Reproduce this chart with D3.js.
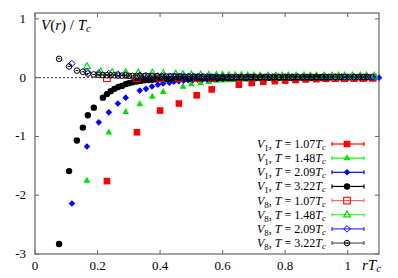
<!DOCTYPE html>
<html lang="en">
<head>
<meta charset="utf-8">
<title>V(r) / Tc</title>
<script src="https://d3js.org/d3.v7.min.js"></script>
<style>
  body { margin: 0; background: #fff; }
  svg { display: block; font-family: "Liberation Serif", "DejaVu Serif", serif; }
  .tick-label { font-size: 13px; fill: #000; }
  .leg { font-size: 12px; fill: #000; }
</style>
</head>
<body>
<svg id="chart" width="398" height="278"></svg>
<script>
// ---- data ----
const xTicks = [0, 0.2, 0.4, 0.6, 0.8, 1];
const yTicks = [1, 0, -1, -2, -3];

// V1, T = 1.07Tc
const r_v1_107 = [0.23, 0.326, 0.40, 0.46, 0.517, 0.565, 0.652, 0.693, 0.73, 0.767, 0.80, 0.833, 0.866, 0.90, 0.93, 0.96, 0.99, 1.02, 1.05, 1.08];
const v_v1_107 = [-1.76, -0.93, -0.56, -0.44, -0.30, -0.20, -0.12, -0.09, -0.07, -0.06, -0.05, -0.04, -0.03, -0.025, -0.02, -0.02, -0.02, -0.015, -0.015, -0.01];
// V1, T = 1.48Tc
const r_v1_148 = [0.166, 0.236, 0.29, 0.335, 0.375, 0.41, 0.473, 0.50, 0.53, 0.556, 0.58, 0.60, 0.62, 0.64, 0.66, 0.68, 0.70, 0.72, 0.745, 0.77, 0.79, 0.81, 0.835, 0.86, 0.88, 0.90, 0.925, 0.95, 0.97, 0.99, 1.015, 1.04, 1.06, 1.085];
const v_v1_148 = [-1.75, -0.93, -0.58, -0.45, -0.32, -0.24, -0.15, -0.11, -0.09, -0.07, -0.05, -0.045, -0.04, -0.035, -0.03, -0.03, -0.025, -0.025, -0.02, -0.02, -0.02, -0.015, -0.015, -0.015, -0.01, -0.01, -0.01, -0.01, -0.01, -0.005, -0.005, -0.005, -0.005, 0];
// V1, T = 2.09Tc
const r_v1_209 = [0.118, 0.166, 0.204, 0.236, 0.265, 0.29, 0.335, 0.355, 0.374, 0.393, 0.41, 0.43, 0.444, 0.46, 0.475, 0.49, 0.505, 0.52, 0.535, 0.55, 0.565, 0.58, 0.60, 0.62, 0.64, 0.66, 0.68, 0.70, 0.72, 0.74, 0.76, 0.78, 0.80, 0.82, 0.84, 0.86, 0.88, 0.90, 0.92, 0.94, 0.96, 0.98, 1.00, 1.02, 1.04, 1.06, 1.08, 1.10];
const v_v1_209 = [-2.14, -1.17, -0.76, -0.59, -0.44, -0.34, -0.22, -0.19, -0.15, -0.12, -0.10, -0.085, -0.07, -0.06, -0.05, -0.045, -0.04, -0.035, -0.03, -0.03, -0.025, -0.02, -0.02, -0.015, -0.015, -0.01, -0.01, -0.01, -0.01, -0.005, -0.005, -0.005, -0.005, -0.005, 0, 0, 0, 0, 0, 0, 0, 0, 0, 0, 0, 0, 0, 0];
// V1, T = 3.22Tc
const r_v1_322 = [0.077, 0.109, 0.134, 0.153, 0.169, 0.188, 0.217, 0.23, 0.242, 0.254, 0.266, 0.278, 0.29, 0.30, 0.312, 0.325, 0.337, 0.35, 0.362, 0.375, 0.39, 0.405, 0.42, 0.435, 0.45, 0.465, 0.48, 0.495, 0.51, 0.525, 0.54, 0.555, 0.57, 0.585, 0.60, 0.615, 0.63, 0.645, 0.66, 0.675, 0.69, 0.705, 0.72, 0.735, 0.75, 0.765, 0.78, 0.795, 0.81, 0.825, 0.84, 0.855, 0.87, 0.885, 0.90, 0.915, 0.93];
const v_v1_322 = [-2.83, -1.59, -1.07, -0.85, -0.64, -0.51, -0.34, -0.28, -0.23, -0.19, -0.16, -0.14, -0.11, -0.095, -0.08, -0.065, -0.055, -0.045, -0.04, -0.035, -0.03, -0.025, -0.02, -0.02, -0.02, -0.015, -0.015, -0.015, -0.01, -0.01, -0.01, -0.01, -0.01, -0.01, -0.005, -0.005, -0.005, -0.005, -0.005, -0.005, -0.005, -0.005, 0, 0, 0, 0, 0, 0, 0, 0, 0, 0, 0, 0, 0, 0, 0];
// V8, T = 1.07Tc
const r_v8_107 = [0.23, 0.326, 0.40, 0.46, 0.517, 0.565, 0.652, 0.693, 0.73, 0.767, 0.80, 0.833, 0.866, 0.90, 0.93, 0.96, 0.99, 1.02, 1.05, 1.08];
const v_v8_107 = [-0.01, -0.01, -0.01, -0.005, -0.005, -0.005, 0, 0, 0, 0, 0, 0, 0, 0, 0, 0, 0, 0, 0, 0];
// V8, T = 1.48Tc
const r_v8_148 = [0.166, 0.21, 0.247, 0.29, 0.33, 0.375, 0.41, 0.45, 0.473, 0.50, 0.53, 0.556, 0.58, 0.60, 0.62, 0.64, 0.66, 0.68, 0.70, 0.72, 0.745, 0.77, 0.79, 0.81, 0.835, 0.86, 0.88, 0.90, 0.925, 0.95, 0.97, 0.99, 1.015, 1.04, 1.06, 1.085];
const v_v8_148 = [0.19, 0.10, 0.09, 0.085, 0.08, 0.08, 0.07, 0.06, 0.055, 0.05, 0.045, 0.04, 0.04, 0.04, 0.035, 0.035, 0.035, 0.03, 0.03, 0.03, 0.03, 0.03, 0.03, 0.03, 0.03, 0.03, 0.03, 0.03, 0.03, 0.03, 0.03, 0.03, 0.03, 0.03, 0.03, 0.03];
// V8, T = 2.09Tc
const r_v8_209 = [0.118, 0.166, 0.204, 0.236, 0.265, 0.29, 0.335, 0.355, 0.374, 0.393, 0.41, 0.43, 0.444, 0.46, 0.475, 0.49, 0.505, 0.52, 0.535, 0.55, 0.565, 0.58, 0.60, 0.62, 0.64, 0.66, 0.68, 0.70, 0.72, 0.74, 0.76, 0.78, 0.80, 0.82, 0.84, 0.86, 0.88, 0.90, 0.92, 0.94, 0.96, 0.98, 1.00, 1.02, 1.04, 1.06, 1.08];
const v_v8_209 = [0.24, 0.10, 0.08, 0.07, 0.06, 0.05, 0.04, 0.035, 0.03, 0.03, 0.03, 0.025, 0.025, 0.02, 0.02, 0.02, 0.02, 0.02, 0.015, 0.015, 0.015, 0.015, 0.015, 0.01, 0.01, 0.01, 0.01, 0.01, 0.01, 0.01, 0.01, 0.01, 0.01, 0.01, 0.01, 0.01, 0.01, 0.01, 0.01, 0.01, 0.01, 0.01, 0.01, 0.01, 0.01, 0.01, 0.01];
// V8, T = 3.22Tc
const r_v8_322 = [0.077, 0.109, 0.134, 0.153, 0.169, 0.188, 0.203, 0.217, 0.23, 0.242, 0.254, 0.266, 0.278, 0.29, 0.30, 0.312, 0.325, 0.337, 0.35, 0.362, 0.375, 0.39, 0.405, 0.42, 0.435, 0.45, 0.465, 0.48, 0.495, 0.51, 0.525, 0.54, 0.555, 0.57, 0.585, 0.60, 0.615, 0.63, 0.645, 0.66, 0.675, 0.69, 0.705, 0.72, 0.735, 0.75, 0.765, 0.78, 0.795, 0.81, 0.825, 0.84, 0.855, 0.87, 0.885, 0.90, 0.915, 0.93, 0.945, 0.96, 0.975, 0.99, 1.005, 1.02, 1.035, 1.05, 1.065];
const v_v8_322 = [0.32, 0.19, 0.12, 0.10, 0.07, 0.055, 0.05, 0.045, 0.04, 0.04, 0.04, 0.035, 0.035, 0.035, 0.03, 0.03, 0.03, 0.03, 0.025, 0.025, 0.025, 0.025, 0.02, 0.02, 0.02, 0.02, 0.02, 0.015, 0.015, 0.015, 0.015, 0.015, 0.01, 0.01, 0.01, 0.01, 0.01, 0.01, 0.01, 0.01, 0.01, 0.01, 0.01, 0.01, 0.01, 0.01, 0.01, 0.01, 0.01, 0.01, 0.01, 0.01, 0.01, 0.01, 0.01, 0.01, 0.01, 0.01, 0.01, 0.01, 0.01, 0.01, 0.01, 0.01, 0.01, 0.01, 0.01];

const series = [
  { sub: "1", T: "1.07", r: r_v1_107, v: v_v1_107, color: "#ff0000", line: "#ff0000", shape: "square", open: false },
  { sub: "1", T: "1.48", r: r_v1_148, v: v_v1_148, color: "#00e000", line: "#00ff00", shape: "triangle", open: false },
  { sub: "1", T: "2.09", r: r_v1_209, v: v_v1_209, color: "#0000ff", line: "#0000ff", shape: "diamond", open: false },
  { sub: "1", T: "3.22", r: r_v1_322, v: v_v1_322, color: "#000000", line: "#000000", shape: "circle", open: false },
  { sub: "8", T: "1.07", r: r_v8_107, v: v_v8_107, color: "#ff0000", line: "#ff6666", shape: "square", open: true },
  { sub: "8", T: "1.48", r: r_v8_148, v: v_v8_148, color: "#00e000", line: "#33ff33", shape: "triangle", open: true },
  { sub: "8", T: "2.09", r: r_v8_209, v: v_v8_209, color: "#0000ff", line: "#3333ff", shape: "diamond", open: true },
  { sub: "8", T: "3.22", r: r_v8_322, v: v_v8_322, color: "#000000", line: "#555555", shape: "circle", open: true }
];

// ---- layout ----
const svg = d3.select("#chart");
const mLeft = 35, mRight = 379, mTop = 13, mBottom = 254;

const x = d3.scaleLinear().domain([0, 1.1]).range([mLeft, mRight]);
const y = d3.scaleLinear().domain([-3, 1.1]).range([mBottom, mTop]);

const frameColor = "#666";

// zero line (dashed)
svg.append("line")
  .attr("x1", mLeft).attr("x2", mRight)
  .attr("y1", y(0)).attr("y2", y(0))
  .attr("stroke", "#000").attr("stroke-width", 0.8)
  .attr("stroke-dasharray", "2,2");

// inward ticks on all four sides
const tl = 4;
xTicks.forEach(t => {
  svg.append("line").attr("x1", x(t)).attr("x2", x(t)).attr("y1", mBottom).attr("y2", mBottom - tl)
    .attr("stroke", frameColor);
  svg.append("line").attr("x1", x(t)).attr("x2", x(t)).attr("y1", mTop).attr("y2", mTop + tl)
    .attr("stroke", frameColor);
  svg.append("text").attr("class", "tick-label")
    .attr("x", x(t)).attr("y", mBottom + 16)
    .attr("text-anchor", "middle")
    .text(t);
});
yTicks.forEach(t => {
  svg.append("line").attr("x1", mLeft).attr("x2", mLeft + tl).attr("y1", y(t)).attr("y2", y(t))
    .attr("stroke", frameColor);
  svg.append("line").attr("x1", mRight).attr("x2", mRight - tl).attr("y1", y(t)).attr("y2", y(t))
    .attr("stroke", frameColor);
  svg.append("text").attr("class", "tick-label")
    .attr("x", mLeft - 9).attr("y", y(t) + 4)
    .attr("text-anchor", "end")
    .text(t);
});

// frame
svg.append("rect")
  .attr("x", mLeft).attr("y", mTop)
  .attr("width", mRight - mLeft).attr("height", mBottom - mTop)
  .attr("fill", "none").attr("stroke", frameColor).attr("stroke-width", 1.2);

// marker drawing
function marker(g, s, cx, cy) {
  const fill = s.open ? "none" : s.color;
  const stroke = s.color;
  if (s.shape === "square") {
    g.append("rect").attr("x", cx - 3.3).attr("y", cy - 3.3)
      .attr("width", 6.6).attr("height", 6.6)
      .attr("fill", fill).attr("stroke", s.open ? stroke : "none").attr("stroke-width", 1.1);
  } else if (s.shape === "triangle") {
    g.append("path")
      .attr("d", `M${cx},${cy - 3.8}L${cx + 3.4},${cy + 2.2}L${cx - 3.4},${cy + 2.2}Z`)
      .attr("fill", fill).attr("stroke", s.open ? stroke : "none").attr("stroke-width", 1.2);
  } else if (s.shape === "diamond") {
    g.append("path")
      .attr("d", `M${cx},${cy - 3.3}L${cx + 3.3},${cy}L${cx},${cy + 3.3}L${cx - 3.3},${cy}Z`)
      .attr("fill", fill).attr("stroke", s.open ? stroke : "none").attr("stroke-width", 1);
  } else {
    g.append("circle").attr("cx", cx).attr("cy", cy).attr("r", s.open ? 2.8 : 3.2)
      .attr("fill", fill).attr("stroke", s.open ? stroke : "none").attr("stroke-width", 1);
    if (s.open) {
      g.append("line").attr("x1", cx - 1.5).attr("x2", cx + 1.5).attr("y1", cy).attr("y2", cy)
        .attr("stroke", stroke).attr("stroke-width", 1);
    }
  }
}

// points
const plot = svg.append("g");
series.forEach(s => {
  const g = plot.append("g");
  s.r.forEach((rv, i) => marker(g, s, x(rv), y(s.v[i])));
});

// legend
const legX = 326, legY0 = 148, legDy = 14.15;
const lx1 = 332, lx2 = 364, lmx = 347;
series.forEach((s, i) => {
  const yy = legY0 + i * legDy;
  const t = svg.append("text").attr("class", "leg")
    .attr("x", legX).attr("y", yy).attr("text-anchor", "end");
  t.append("tspan").attr("font-style", "italic").text("V");
  t.append("tspan").attr("font-size", "9px").attr("dy", 3).text(s.sub);
  t.append("tspan").attr("dy", -3).text(", ");
  t.append("tspan").attr("font-style", "italic").text("T");
  t.append("tspan").text(" = " + s.T);
  t.append("tspan").attr("font-style", "italic").text("T");
  t.append("tspan").attr("font-style", "italic").attr("font-size", "9px").attr("dy", 2).text("c");

  const ly = yy - 4;
  svg.append("line").attr("x1", lx1).attr("x2", lx2).attr("y1", ly).attr("y2", ly)
    .attr("stroke", s.line).attr("stroke-width", 1.2);
  [lx1, lx2].forEach(ex => svg.append("line")
    .attr("x1", ex).attr("x2", ex).attr("y1", ly - 2).attr("y2", ly + 2)
    .attr("stroke", s.line).attr("stroke-width", 1.2));
  marker(svg.append("g"), s, lmx, ly);
});

// axis titles
const yl = svg.append("text").attr("x", 41).attr("y", 30).attr("font-size", "15px");
yl.append("tspan").attr("font-style", "italic").text("V");
yl.append("tspan").text("(");
yl.append("tspan").attr("font-style", "italic").text("r");
yl.append("tspan").text(") / ");
yl.append("tspan").attr("font-style", "italic").text("T");
yl.append("tspan").attr("font-style", "italic").attr("font-size", "11px").attr("dy", 2).text("c");

const xl = svg.append("text").attr("x", 362).attr("y", 270).attr("font-size", "15px");
xl.append("tspan").attr("font-style", "italic").text("rT");
xl.append("tspan").attr("font-style", "italic").attr("font-size", "11px").attr("dy", 2).text("c");
</script>
</body>
</html>
